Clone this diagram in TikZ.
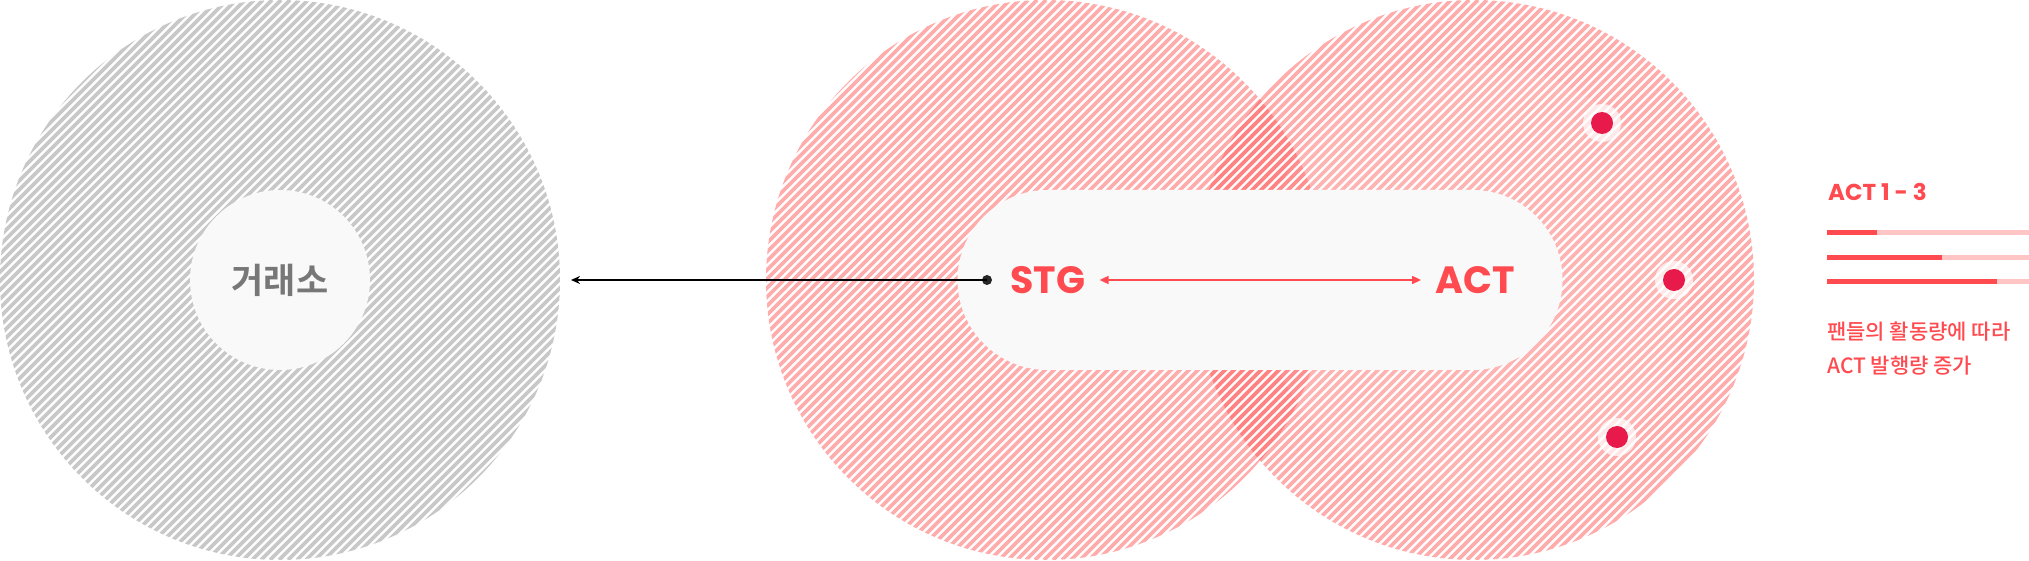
\documentclass[tikz,border=0pt]{standalone}
\usepackage{fontspec}
\setmainfont{Noto Sans CJK KR}[BoldFont={Noto Sans CJK KR Bold}]
\newfontfamily\krmed{Noto Sans CJK KR Medium}
\newfontfamily\popfont{Poppins}
\definecolor{actred}{RGB}{255,74,79}
\definecolor{hatchred}{RGB}{255,90,90}
\definecolor{hatchgrey}{RGB}{200,200,200}
\definecolor{dotred}{RGB}{232,25,75}
\definecolor{pillbg}{RGB}{249,249,249}
\definecolor{barlight}{RGB}{255,196,196}
\definecolor{exchgrey}{RGB}{119,119,119}
\usetikzlibrary{arrows.meta}
\tikzset{
  hatch/.style={line width=3.8pt},
  token/.style={font=\popfont\bfseries\fontsize{38}{38}\selectfont,text=actred,inner sep=0pt},
  actdot/.style={circle,fill=dotred,minimum size=22pt,inner sep=0pt},
}

\begin{document}
\begin{tikzpicture}[x=1pt,y=1pt]
  \useasboundingbox (0,0) rectangle (2029,560);
  % hatched discs, all stripes on one shared grid x-y=c
  \begin{scope}
    \clip (280,280) circle (280);
    \foreach \c in {-396,-387,...,396} \draw[hatch,hatchgrey] (\c,0) -- ++(560,560);
  \end{scope}
  \begin{scope}
    \clip (1046,280) circle (280);
    \foreach \c in {369,378,...,1170} \draw[hatch,hatchred,draw opacity=0.5] (\c,0) -- ++(560,560);
  \end{scope}
  \begin{scope}
    \clip (1474,280) circle (280);
    \foreach \c in {792,801,...,1593} \draw[hatch,hatchred,draw opacity=0.5] (\c,0) -- ++(560,560);
    \fill[white,opacity=0.1] (1474,280) circle (215);
  \end{scope}

  \node[circle,fill=pillbg,minimum size=180pt,inner sep=0pt,text=exchgrey,
    font=\bfseries\fontsize{35}{35}\selectfont] (exch) at (280,280) {거래소};
  \node[fill=pillbg,rounded corners=90pt,minimum width=605pt,minimum height=180pt,
    inner sep=0pt] (pill) at (1260,280) {};
  \node[token] (stg) at (1048,280) {STG};
  \node[token] (act) at (1475,280) {ACT};

  \coordinate (stgdot) at (987,280);
  \coordinate (exchin) at (571,280);
  \fill[black!85] (stgdot) circle (5);
  \draw[black,line width=1.6pt,-{Stealth[length=9pt,width=8pt]}] (stgdot) -- (exchin);
  \draw[actred,line width=1.6pt,{Triangle[length=9pt,width=8pt]}-{Triangle[length=9pt,width=8pt]},
    shorten <=14pt,shorten >=14pt] (stg.east) -- (act.west);

  \foreach \p/\q in {1602/437, 1674/280, 1617/123} {
    \fill[white,opacity=0.7] (\p,\q) circle (19);
    \node[actdot] (dot\p) at (\p,\q) {};
  }

  \node[anchor=west,inner sep=0pt,text=actred,font=\popfont\bfseries\fontsize{23}{23}\selectfont]
    (legend) at (1828,368) {ACT 1 - 3};
  \foreach \y/\len in {327/50, 302.5/115, 278/170} {
    \draw[barlight,line width=5pt] (1827,\y) -- (2029,\y);
    \draw[actred,line width=5pt] (1827,\y) -- ++(\len,0);
  }
  \node[anchor=west,inner sep=0pt,align=left,text=actred,
    font=\krmed\fontsize{21}{34}\selectfont] (note) at (1827,211)
    {팬들의 활동량에 따라\\ACT 발행량 증가};
\end{tikzpicture}
\end{document}
